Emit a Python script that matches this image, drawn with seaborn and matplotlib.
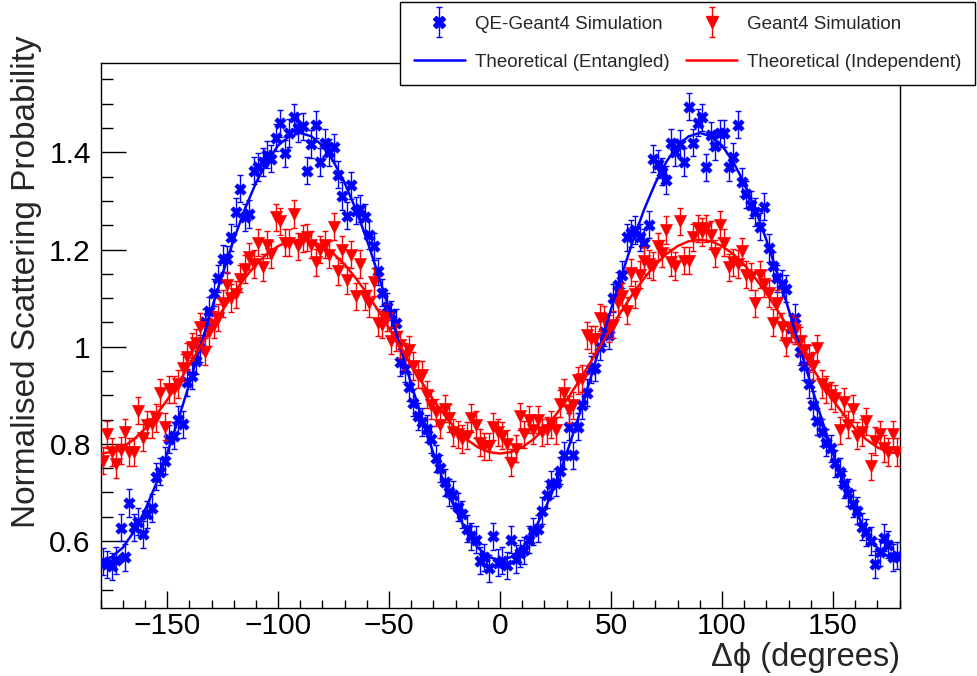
import numpy as np
import matplotlib
matplotlib.use("Agg")
import matplotlib.pyplot as plt
from matplotlib.lines import Line2D
from matplotlib.container import ErrorbarContainer
from matplotlib.legend_handler import HandlerErrorbar
from matplotlib.ticker import MultipleLocator
import seaborn as sns

# bin centres (degrees)
phi = np.arange(-179, 180, 2)

# QE-Geant4 simulation (blue crosses)
qe_geant4 = [
    0.557, 0.552, 0.548, 0.560, 0.627, 0.566, 0.678, 0.628, 0.640, 0.614,
    0.655, 0.668, 0.732, 0.743, 0.765, 0.810, 0.817, 0.850, 0.840, 0.927,
    0.940, 0.971, 0.997, 1.050, 1.074, 1.111, 1.141, 1.181, 1.180, 1.225,
    1.277, 1.325, 1.266, 1.273, 1.362, 1.370, 1.380, 1.395, 1.387, 1.430,
    1.460, 1.398, 1.440, 1.472, 1.450, 1.454, 1.362, 1.417, 1.457, 1.380,
    1.420, 1.400, 1.410, 1.354, 1.310, 1.270, 1.332, 1.280, 1.284, 1.266,
    1.230, 1.207, 1.155, 1.111, 1.082, 1.067, 1.049, 0.968, 0.955, 0.916,
    0.885, 0.857, 0.845, 0.831, 0.809, 0.770, 0.750, 0.721, 0.700, 0.695,
    0.670, 0.655, 0.625, 0.610, 0.603, 0.559, 0.566, 0.544, 0.610, 0.555,
    0.559, 0.550, 0.603, 0.563, 0.575, 0.581, 0.603, 0.620, 0.625, 0.662,
    0.695, 0.717, 0.720, 0.745, 0.776, 0.835, 0.776, 0.835, 0.879, 0.905,
    0.953, 0.957, 1.000, 1.030, 1.023, 1.100, 1.126, 1.148, 1.225, 1.233,
    1.240, 1.225, 1.214, 1.251, 1.387, 1.376, 1.360, 1.343, 1.420, 1.400,
    1.417, 1.380, 1.494, 1.420, 1.461, 1.472, 1.369, 1.435, 1.413, 1.439,
    1.439, 1.369, 1.391, 1.457, 1.339, 1.314, 1.292, 1.277, 1.247, 1.288,
    1.203, 1.166, 1.141, 1.130, 1.119, 1.038, 1.060, 0.990, 0.960, 0.923,
    0.880, 0.846, 0.824, 0.802, 0.791, 0.760, 0.743, 0.717, 0.699, 0.677,
    0.662, 0.629, 0.618, 0.600, 0.552, 0.577, 0.607, 0.592, 0.566, 0.570,
]

# Geant4 simulation (red triangles)
geant4 = [
    0.765, 0.820, 0.783, 0.758, 0.787, 0.824, 0.783, 0.783, 0.868, 0.813,
    0.839, 0.840, 0.853, 0.905, 0.835, 0.912, 0.912, 0.923, 0.957, 0.979,
    1.000, 1.008, 1.041, 0.990, 1.030, 1.045, 1.060, 1.089, 1.126, 1.100,
    1.108, 1.140, 1.160, 1.185, 1.170, 1.214, 1.163, 1.210, 1.190, 1.266,
    1.258, 1.214, 1.214, 1.273, 1.207, 1.222, 1.225, 1.210, 1.174, 1.200,
    1.210, 1.189, 1.247, 1.155, 1.200, 1.137, 1.189, 1.104, 1.170, 1.104,
    1.089, 1.133, 1.049, 1.045, 1.060, 1.012, 1.019, 1.004, 0.980, 0.993,
    0.960, 0.942, 0.942, 0.901, 0.880, 0.865, 0.839, 0.872, 0.853, 0.824,
    0.820, 0.810, 0.817, 0.853, 0.839, 0.802, 0.795, 0.795, 0.835, 0.824,
    0.817, 0.800, 0.761, 0.790, 0.857, 0.820, 0.850, 0.828, 0.850, 0.824,
    0.828, 0.840, 0.828, 0.883, 0.905, 0.870, 0.879, 0.931, 0.934, 1.023,
    1.015, 1.015, 1.060, 1.056, 1.038, 1.045, 1.090, 1.104, 1.074, 1.152,
    1.108, 1.148, 1.177, 1.170, 1.166, 1.207, 1.192, 1.240, 1.174, 1.166,
    1.258, 1.177, 1.177, 1.225, 1.244, 1.236, 1.244, 1.230, 1.192, 1.251,
    1.214, 1.163, 1.174, 1.170, 1.196, 1.148, 1.144, 1.089, 1.148, 1.130,
    1.110, 1.049, 1.089, 1.041, 1.008, 1.038, 1.034, 1.012, 0.993, 0.975,
    0.960, 0.997, 0.923, 0.912, 0.900, 0.894, 0.828, 0.887, 0.839, 0.872,
    0.817, 0.824, 0.846, 0.754, 0.806, 0.820, 0.791, 0.783, 0.820, 0.783,
]

qe_err = 0.028
g4_err = 0.028

# theoretical curves, every 5 degrees
phi_theory = np.arange(-180, 181, 5)
theory_entangled = [
    0.560, 0.567, 0.586, 0.619, 0.663, 0.717, 0.780, 0.850, 0.923, 1.000,
    1.077, 1.150, 1.220, 1.283, 1.337, 1.381, 1.414, 1.433, 1.440,
    1.433, 1.414, 1.381, 1.337, 1.283, 1.220, 1.150, 1.077, 1.000, 0.923,
    0.850, 0.780, 0.717, 0.663, 0.619, 0.586, 0.567, 0.560,
    0.567, 0.586, 0.619, 0.663, 0.717, 0.780, 0.850, 0.923, 1.000,
    1.077, 1.150, 1.220, 1.283, 1.337, 1.381, 1.414, 1.433, 1.440,
    1.433, 1.414, 1.381, 1.337, 1.283, 1.220, 1.150, 1.077, 1.000, 0.923,
    0.850, 0.780, 0.717, 0.663, 0.619, 0.586, 0.567, 0.560,
]
theory_independent = [
    0.780, 0.783, 0.793, 0.809, 0.831, 0.859, 0.890, 0.925, 0.962, 1.000,
    1.038, 1.075, 1.110, 1.141, 1.169, 1.191, 1.207, 1.217, 1.220,
    1.217, 1.207, 1.191, 1.169, 1.141, 1.110, 1.075, 1.038, 1.000, 0.962,
    0.925, 0.890, 0.859, 0.831, 0.809, 0.793, 0.783, 0.780,
    0.783, 0.793, 0.809, 0.831, 0.859, 0.890, 0.925, 0.962, 1.000,
    1.038, 1.075, 1.110, 1.141, 1.169, 1.191, 1.207, 1.217, 1.220,
    1.217, 1.207, 1.191, 1.169, 1.141, 1.110, 1.075, 1.038, 1.000, 0.962,
    0.925, 0.890, 0.859, 0.831, 0.809, 0.793, 0.783, 0.780,
]

sns.set_style("white")
plt.rcParams['font.family'] = ['Liberation Sans', 'DejaVu Sans']

fig = plt.figure(figsize=(9.77, 6.76), dpi=100)
ax = fig.add_axes([0.1029, 0.1010, 0.8178, 0.8060])

# data points with error bars
eb_blue = ax.errorbar(phi, qe_geant4, yerr=qe_err, fmt='none', ecolor='blue',
                      elinewidth=1, capsize=2.5, capthick=1, zorder=2)
sns.scatterplot(x=phi, y=qe_geant4, marker='X', s=70, color='blue',
                edgecolor='blue', linewidth=0.3, ax=ax, zorder=3)
eb_red = ax.errorbar(phi, geant4, yerr=g4_err, fmt='none', ecolor='red',
                     elinewidth=1, capsize=2.5, capthick=1, zorder=4)
sns.scatterplot(x=phi, y=geant4, marker='v', s=80, color='red',
                edgecolor='red', linewidth=0.3, ax=ax, zorder=5)

# theory
sns.lineplot(x=phi_theory, y=theory_entangled, color='blue', lw=1.8, ax=ax, zorder=6)
sns.lineplot(x=phi_theory, y=theory_independent, color='red', lw=1.8, ax=ax, zorder=7)

ax.set_xlim(-180, 180)
ax.set_ylim(0.4626, 1.5842)
ax.set_xticks(np.arange(-150, 151, 50))
ax.xaxis.set_minor_locator(MultipleLocator(10))
ax.set_yticks([0.6, 0.8, 1.0, 1.2, 1.4])
ax.set_yticklabels(['0.6', '0.8', '1', '1.2', '1.4'])
ax.yaxis.set_minor_locator(MultipleLocator(0.05))

ax.tick_params(axis='both', which='both', direction='in', top=False, right=False,
               bottom=True, left=True, colors='black', width=1)
ax.tick_params(axis='x', which='major', length=12.2, labelsize=21.5, pad=3)
ax.tick_params(axis='x', which='minor', length=5.8)
ax.tick_params(axis='y', which='major', length=18, labelsize=21.5, pad=7)
ax.tick_params(axis='y', which='minor', length=8.6)
for sp in ax.spines.values():
    sp.set_color('black')
    sp.set_linewidth(1.0)

ax.set_ylabel("Normalised Scattering Probability", fontsize=24)
ax.yaxis.set_label_coords(-0.073, 0.599)
ax.set_xlabel("Δϕ (degrees)", fontsize=23.5, ha='right')
ax.xaxis.set_label_coords(1.0, -0.063)

# legend
mk_blue = Line2D([], [], marker='X', ls='none', color='blue', markersize=8)
mk_red = Line2D([], [], marker='v', ls='none', color='red', markersize=9)
ln_blue = Line2D([], [], color='blue', lw=1.8)
ln_red = Line2D([], [], color='red', lw=1.8)
handles = [(eb_blue, mk_blue), ln_blue, (eb_red, mk_red), ln_red]
labels = ['QE-Geant4 Simulation', 'Theoretical (Entangled)',
          'Geant4 Simulation', 'Theoretical (Independent)']
leg = fig.legend(handles, labels, ncol=2, loc='upper left',
                 bbox_to_anchor=(400 / 977, 1 - 2 / 676),
                 fontsize=13.5, frameon=True, fancybox=False,
                 handlelength=2.72, handletextpad=0.53, borderpad=0.73,
                 labelspacing=1.12, columnspacing=0.9, borderaxespad=0,
                 handler_map={ErrorbarContainer: HandlerErrorbar(yerr_size=0.8)})
leg.get_frame().set_edgecolor('black')
leg.get_frame().set_linewidth(1.0)
leg.get_frame().set_alpha(1)

fig.savefig("out.png", dpi=100)
